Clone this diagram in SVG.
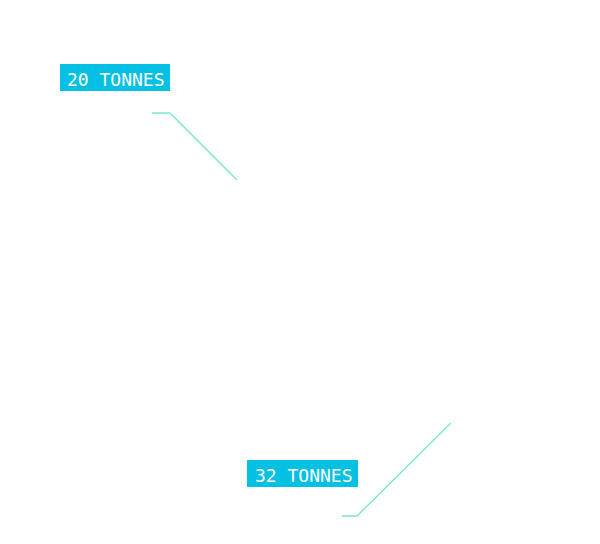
<svg xmlns="http://www.w3.org/2000/svg" width="600" height="544" viewBox="0 0 600 544">
<style>
.tag{fill:#04c0e2}
.tag-text{font-family:"DejaVu Sans Mono","Liberation Mono",monospace;font-size:18px;fill:#ffffff}
.leader{fill:none;stroke:#74e8cf;stroke-width:1.3}
</style>
<rect width="600" height="544" fill="#ffffff"/>
<g id="connectors">
<polyline class="leader" points="152,113 170,113 237,180"/>
<polyline class="leader" points="451,423 357,516 342,516"/>
</g>
<g id="label-20">
<rect class="tag" x="60" y="64" width="110" height="27"/>
<text class="tag-text" x="67" y="85.5">20 TONNES</text>
</g>
<g id="label-32">
<rect class="tag" x="247" y="460" width="111" height="27"/>
<text class="tag-text" x="255" y="481.5">32 TONNES</text>
</g>
</svg>
